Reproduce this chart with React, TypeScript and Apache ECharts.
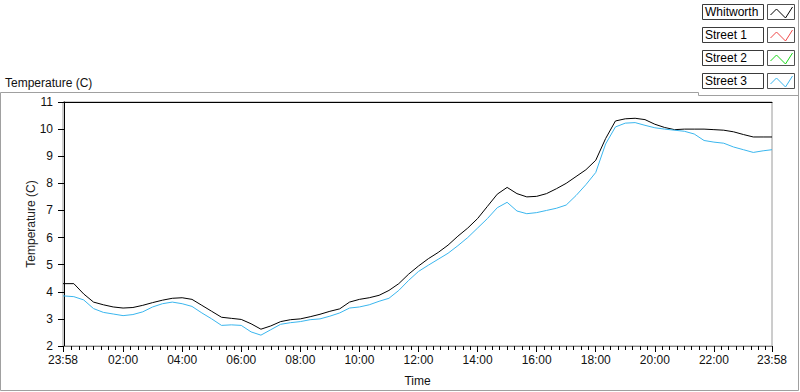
import React, { useEffect, useRef } from "react";
import * as echarts from "echarts";

const FONT = '"Liberation Sans", Arial, sans-serif';

// minutes since midnight (23:58 of the previous day = -2)
const times = [
  -2, 20, 40, 60, 80, 100, 120, 140, 160, 180, 200, 220, 240, 260, 280, 300, 320, 340, 360, 380,
  400, 420, 440, 460, 480, 500, 520, 540, 560, 580, 600, 620, 640, 660, 680, 700, 720, 740, 760,
  780, 800, 820, 840, 860, 880, 900, 920, 940, 960, 980, 1000, 1020, 1040, 1060, 1080, 1100, 1120,
  1140, 1160, 1180, 1200, 1220, 1240, 1260, 1280, 1300, 1320, 1340, 1360, 1380, 1400, 1420, 1438,
];

const whitworth = [
  4.3, 4.3, 3.92, 3.62, 3.52, 3.44, 3.4, 3.42, 3.5, 3.6, 3.69, 3.76, 3.78, 3.72, 3.5, 3.28, 3.06,
  3.02, 2.98, 2.82, 2.62, 2.74, 2.9, 2.97, 3.0, 3.08, 3.17, 3.28, 3.37, 3.62, 3.72, 3.78, 3.87,
  4.05, 4.3, 4.65, 4.95, 5.22, 5.45, 5.72, 6.05, 6.35, 6.7, 7.15, 7.6, 7.85, 7.62, 7.5, 7.52,
  7.62, 7.8, 8.0, 8.25, 8.5, 8.85, 9.65, 10.3, 10.38, 10.4, 10.35, 10.18, 10.06, 9.98, 10.0,
  10.0, 10.0, 9.98, 9.96, 9.9, 9.8, 9.71, 9.71, 9.71,
];

const street1: number[] = [];
const street2: number[] = [];

const street3 = [
  3.85, 3.82, 3.7, 3.38, 3.24, 3.18, 3.12, 3.16, 3.26, 3.44, 3.56, 3.62, 3.56, 3.46, 3.22, 3.0,
  2.76, 2.78, 2.76, 2.52, 2.4, 2.6, 2.8, 2.86, 2.9, 2.97, 3.0, 3.1, 3.22, 3.4, 3.44, 3.52, 3.65,
  3.76, 4.05, 4.42, 4.75, 4.98, 5.2, 5.42, 5.7, 6.0, 6.35, 6.7, 7.1, 7.3, 6.98, 6.88, 6.92, 7.0,
  7.08, 7.2, 7.55, 7.95, 8.4, 9.45, 10.08, 10.22, 10.24, 10.14, 10.05, 10.0, 9.96, 9.92, 9.82,
  9.58, 9.52, 9.48, 9.34, 9.24, 9.14, 9.2, 9.24,
];

const majorTicks = [-2, 120, 240, 360, 480, 600, 720, 840, 960, 1080, 1200, 1320, 1438];
const xTickLabels = [
  "23:58", "02:00", "04:00", "06:00", "08:00", "10:00", "12:00",
  "14:00", "16:00", "18:00", "20:00", "22:00", "23:58",
];
const minorTicks: number[] = [];
for (let m = 15; m < 1438; m += 15) if (m % 120 !== 0) minorTicks.push(m);

const seriesNames = ["Whitworth", "Street 1", "Street 2", "Street 3"];
const seriesColors = ["#000000", "#f04848", "#18d818", "#3ab6ee"];
const seriesData = [whitworth, street1, street2, street3];

export default function App() {
  const ref = useRef<HTMLDivElement>(null);
  useEffect(() => {
    if (!ref.current) return;
    const chart = echarts.init(ref.current, undefined, { renderer: "svg" });

    const legendEls: any[] = [];
    seriesNames.forEach((name, i) => {
      const by = 4 + i * 23;
      legendEls.push({
        type: "rect",
        shape: { x: 702.5, y: by + 0.5, width: 61, height: 15 },
        style: { fill: "#fff", stroke: "#3a3a3a", lineWidth: 1 },
      });
      legendEls.push({
        type: "text",
        x: 705,
        y: by + 8,
        style: {
          text: name,
          fill: "#000",
          font: `12px ${FONT}`,
          textVerticalAlign: "middle",
          textAlign: "left",
        },
      });
      const bx = 767.5;
      legendEls.push({
        type: "rect",
        shape: { x: bx, y: by + 0.5, width: 27, height: 15 },
        style: { fill: "#fff", stroke: "#505050", lineWidth: 1 },
      });
      legendEls.push({
        type: "polyline",
        shape: {
          points: [
            [bx + 3, by + 11],
            [bx + 9, by + 5],
            [bx + 18, by + 14],
            [bx + 25, by + 3],
          ],
        },
        style: { stroke: seriesColors[i], lineWidth: 1, fill: "none" },
      });
    });

    const option: any = {
      animation: false,
      backgroundColor: "#ffffff",
      textStyle: { fontFamily: FONT },
      grid: {
        left: 63,
        right: 28,
        top: 102,
        bottom: 40,
        show: true,
        borderColor: "#9a9a9a",
        borderWidth: 1,
        backgroundColor: "#ffffff",
      },
      xAxis: [
        {
          type: "value",
          min: -2,
          max: 1438,
          position: "bottom",
          name: "Time",
          nameLocation: "middle",
          nameGap: 29,
          nameMoveOverlap: false,
          nameTextStyle: { color: "#111", fontSize: 12, fontFamily: FONT },
          axisLine: { show: true, lineStyle: { color: "#808080", width: 1 } },
          axisTick: {
            show: true,
            inside: false,
            length: 6,
            customValues: majorTicks,
            lineStyle: { color: "#000", width: 1 },
          },
          axisLabel: {
            customValues: majorTicks,
            margin: 8,
            color: "#111",
            fontSize: 12,
            fontFamily: FONT,
            formatter: (v: number) => {
              const idx = majorTicks.indexOf(v);
              return idx >= 0 ? xTickLabels[idx] : "";
            },
          },
          splitLine: { show: false },
        },
        {
          type: "value",
          min: -2,
          max: 1438,
          position: "bottom",
          axisLine: { show: false },
          axisTick: {
            show: true,
            inside: false,
            length: 4,
            customValues: minorTicks,
            lineStyle: { color: "#000", width: 1 },
          },
          axisLabel: { show: false },
          splitLine: { show: false },
        },
        {
          type: "value",
          min: -2,
          max: 1438,
          position: "top",
          axisLine: { show: true, lineStyle: { color: "#000", width: 1 } },
          axisTick: { show: false },
          axisLabel: { show: false },
          splitLine: { show: false },
        },
      ],
      yAxis: {
        type: "value",
        min: 2,
        max: 11,
        interval: 1,
        name: "Temperature (C)",
        nameLocation: "middle",
        nameGap: 26,
        nameMoveOverlap: false,
        nameTextStyle: { color: "#222", fontSize: 12, fontFamily: FONT },
        axisLine: { show: true, lineStyle: { color: "#000", width: 1 } },
        axisTick: { show: true, inside: false, length: 6, lineStyle: { color: "#000" } },
        axisLabel: { margin: 10, color: "#111", fontSize: 12, fontFamily: FONT },
        splitLine: { show: false },
      },
      series: seriesNames.map((name, i) => ({
        name,
        type: "line",
        xAxisIndex: 0,
        data: seriesData[i].map((v, j) => [times[j], v]),
        showSymbol: false,
        symbol: "none",
        lineStyle: { color: seriesColors[i], width: 1 },
        itemStyle: { color: seriesColors[i] },
        z: 2 + i,
      })),
      graphic: [
        {
          type: "polyline",
          shape: {
            points: [
              [698.5, 92.5],
              [0.5, 92.5],
              [0.5, 390.5],
              [798.5, 390.5],
              [798.5, 0],
            ],
          },
          style: { stroke: "#a0a0a0", lineWidth: 1, fill: "none" },
        },
        {
          type: "polyline",
          shape: {
            points: [
              [698.5, 92.5],
              [698.5, 95.5],
              [798.5, 95.5],
            ],
          },
          style: { stroke: "#a0a0a0", lineWidth: 1, fill: "none" },
        },
        {
          type: "text",
          x: 5,
          y: 83,
          style: {
            text: "Temperature (C)",
            fill: "#111",
            font: `12px ${FONT}`,
            textVerticalAlign: "middle",
          },
        },
        ...legendEls,
      ],
    };
    chart.setOption(option);
    return () => chart.dispose();
  }, []);

  return (
    <div
      ref={ref}
      style={{ position: "fixed", left: 0, top: 0, width: 800, height: 392, background: "#fff" }}
    />
  );
}
